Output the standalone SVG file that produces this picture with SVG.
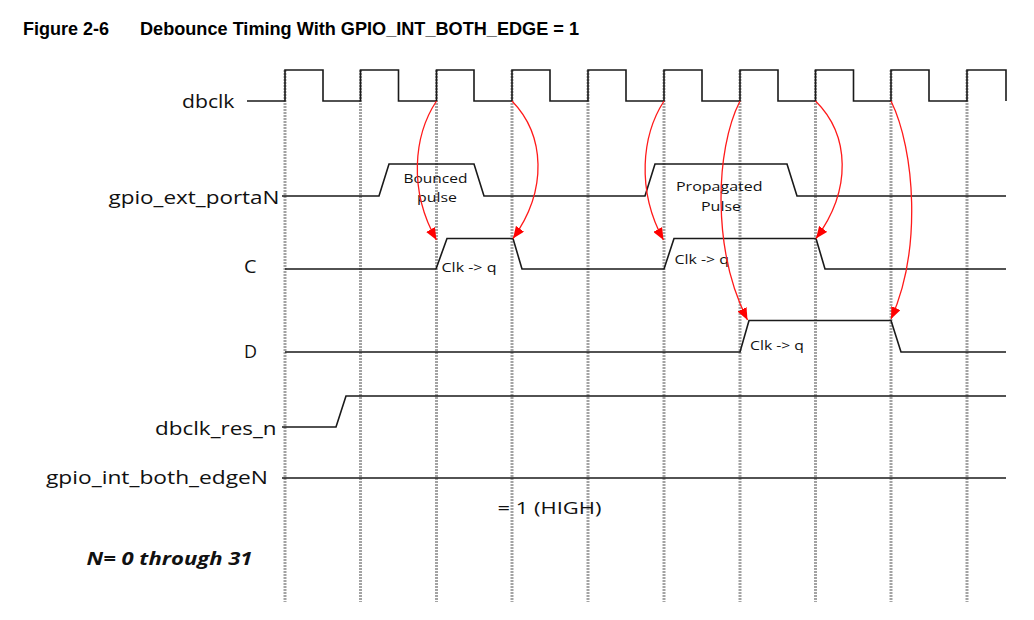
<svg xmlns="http://www.w3.org/2000/svg" width="1034" height="620" viewBox="0 0 1034 620">
<style>
.grid{stroke:#a3a3a3;stroke-width:3;stroke-dasharray:2 1;fill:none}
.sig{stroke:#1a1a1a;stroke-width:1.6;fill:none;stroke-linejoin:miter}
.arr{stroke:#ff1a1a;stroke-width:1.3;fill:none;marker-end:url(#ah)}
.lbl{font-family:"Open Sans","DejaVu Sans",sans-serif;font-size:18px;fill:#111}
.in{font-family:"Open Sans","DejaVu Sans",sans-serif;font-size:13.5px;fill:#111}
.title{font-family:"Liberation Sans",Arial,sans-serif;font-size:18px;font-weight:bold;fill:#000}
</style>
<defs>
<marker id="ah" viewBox="0 0 12 10" refX="12" refY="5" markerWidth="12" markerHeight="10" markerUnits="userSpaceOnUse" orient="auto">
<path d="M0,0 L12,5 L0,10 Z" fill="#ff0000"/>
</marker>
</defs>
<rect width="1034" height="620" fill="#fff"/>
<g id="title">
<text class="title" x="23" y="35" textLength="86" lengthAdjust="spacingAndGlyphs">Figure 2-6</text>
<text class="title" x="140" y="35" textLength="439" lengthAdjust="spacingAndGlyphs">Debounce Timing With GPIO_INT_BOTH_EDGE = 1</text>
</g>
<g id="grid">
<line class="grid" x1="285" y1="70" x2="285" y2="602"/>
<line class="grid" x1="360.5" y1="70" x2="360.5" y2="602"/>
<line class="grid" x1="436.5" y1="70" x2="436.5" y2="602"/>
<line class="grid" x1="512" y1="70" x2="512" y2="602"/>
<line class="grid" x1="588" y1="70" x2="588" y2="602"/>
<line class="grid" x1="664" y1="70" x2="664" y2="602"/>
<line class="grid" x1="740" y1="70" x2="740" y2="602"/>
<line class="grid" x1="815.5" y1="70" x2="815.5" y2="602"/>
<line class="grid" x1="891" y1="70" x2="891" y2="602"/>
<line class="grid" x1="967" y1="70" x2="967" y2="602"/>
</g>
<g id="dbclk">
<text class="lbl" x="182" y="108" textLength="52.5" lengthAdjust="spacingAndGlyphs">dbclk</text>
<path class="sig" d="M247,101 H285 V70 H323 V101 H360.5 V70 H398.5 V101 H436.5 V70 H474 V101 H512 V70 H550 V101 H588 V70 H626 V101 H664 V70 H702 V101 H740 V70 H778 V101 H815.5 V70 H853.5 V101 H891 V70 H929 V101 H967 V70 H1006 V101"/>
</g>
<g id="gpio_ext_portaN">
<text class="lbl" x="108.5" y="204" textLength="171" lengthAdjust="spacingAndGlyphs">gpio_ext_portaN</text>
<path class="sig" d="M282,196 H379 L389,164 H474 L484,196 H645 L655,164 H787 L797,196 H1006"/>
<text class="in" x="403.5" y="182.5" textLength="64" lengthAdjust="spacingAndGlyphs">Bounced</text>
<text class="in" x="417" y="201.5" textLength="40" lengthAdjust="spacingAndGlyphs">pulse</text>
<text class="in" x="676" y="190.5" textLength="86.5" lengthAdjust="spacingAndGlyphs">Propagated</text>
<text class="in" x="701" y="210.5" textLength="40" lengthAdjust="spacingAndGlyphs">Pulse</text>
</g>
<g id="C">
<text class="lbl" x="244" y="272.5" textLength="12.5" lengthAdjust="spacingAndGlyphs">C</text>
<path class="sig" d="M285,269 H436 L447,238.5 H513 L522,269 H664 L674,238.5 H816 L825,269 H1006"/>
<text class="in" x="441.5" y="271.5" textLength="55" lengthAdjust="spacingAndGlyphs">Clk -&gt; q</text>
<text class="in" x="674.5" y="264" textLength="54.5" lengthAdjust="spacingAndGlyphs">Clk -&gt; q</text>
</g>
<g id="D">
<text class="lbl" x="244" y="357.5" textLength="13" lengthAdjust="spacingAndGlyphs">D</text>
<path class="sig" d="M285,352 H740 L749,320.5 H891 L901,352 H1006"/>
<text class="in" x="750" y="349.5" textLength="54" lengthAdjust="spacingAndGlyphs">Clk -&gt; q</text>
</g>
<g id="dbclk_res_n">
<text class="lbl" x="155" y="435" textLength="121.5" lengthAdjust="spacingAndGlyphs">dbclk_res_n</text>
<path class="sig" d="M282,427 H336 L346,396 H1006"/>
</g>
<g id="gpio_int_both_edgeN">
<text class="lbl" x="46" y="483.5" textLength="222" lengthAdjust="spacingAndGlyphs">gpio_int_both_edgeN</text>
<path class="sig" d="M282,478 H1006"/>
<text class="lbl" x="497.5" y="514" style="font-size:16px" textLength="104" lengthAdjust="spacingAndGlyphs">= 1 (HIGH)</text>
</g>
<g id="note">
<text class="lbl" x="86.5" y="564.5" style="font-size:17px;font-weight:bold;font-style:italic" textLength="166" lengthAdjust="spacingAndGlyphs">N= 0 through 31</text>
</g>
<g id="connectors">
<path class="arr" d="M436.5,101 C414,135 408,190 436.5,240"/>
<path class="arr" d="M512,101 C545,135 548,190 513,238.5"/>
<path class="arr" d="M664,101 C642,135 636,190 663.5,240"/>
<path class="arr" d="M740,101 C715,150 712,250 747.5,320"/>
<path class="arr" d="M815.5,101 C850,135 852,190 816,238.5"/>
<path class="arr" d="M891,101 C915,150 922,250 891,319"/>
</g>
</svg>
